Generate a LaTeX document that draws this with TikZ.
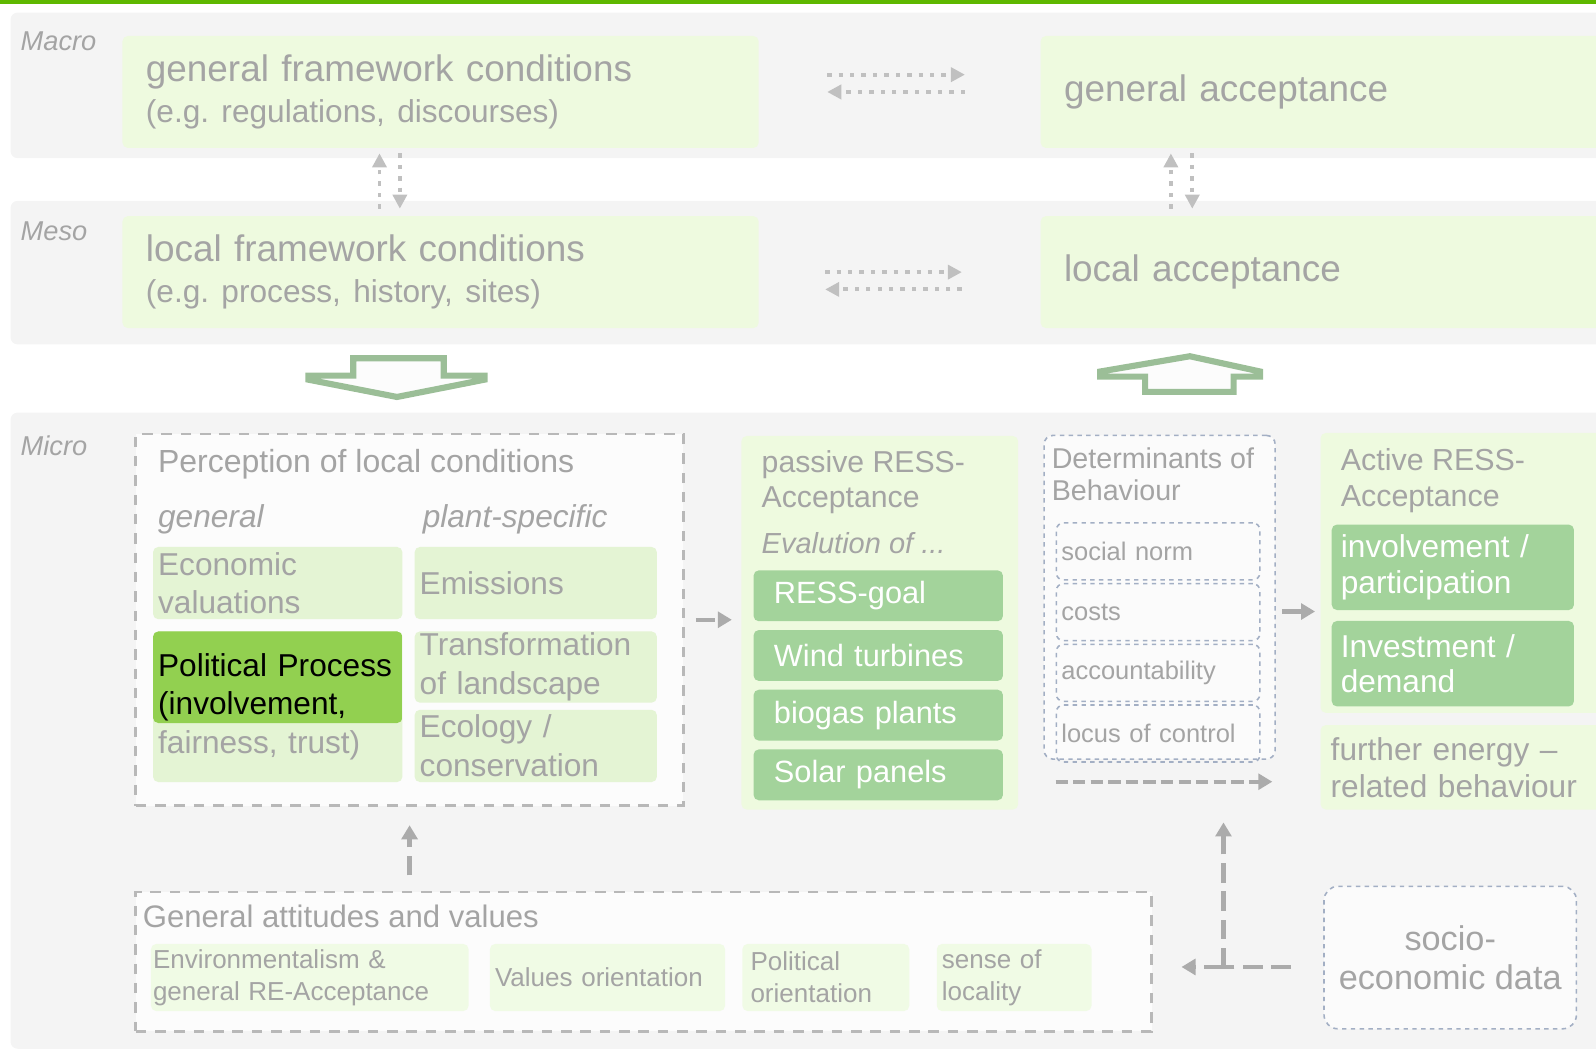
\documentclass[tikz,border=0pt]{standalone}
\usepackage{fontspec}
\setmainfont{Liberation Sans}
\usepackage{tikz}
\usetikzlibrary{shapes.geometric, arrows.meta, positioning, calc}
\frenchspacing

\definecolor{topgreen}{HTML}{5FB800}
\definecolor{bandgray}{HTML}{F4F4F4}
\definecolor{palegreen}{HTML}{EEFADF}
\definecolor{subgreen}{HTML}{E4F4D4}
\definecolor{attgreen}{HTML}{F0FBE5}
\definecolor{darkgreen}{HTML}{A3D39B}
\definecolor{politgreen}{HTML}{92D050}
\definecolor{txtgray}{HTML}{A4A4A4}
\definecolor{linegray}{HTML}{ABABAB}
\definecolor{dashblue}{HTML}{A3AFC4}
\definecolor{blockgreen}{HTML}{9BBE97}

\newcommand\pxl{0.02036cm}
\newcommand\fsz[2]{\fontsize{#1}{#2}\selectfont}
\newcommand\ppbb{path picture bounding box}

\tikzstyle{arrow} = [line width=2.5pt, draw=linegray, dash pattern=on 11pt off 5pt, -{Triangle[length=8pt,width=9pt]}]
\tikzstyle{dotarrow} = [line width=2.2pt, draw=linegray!75, dash pattern=on 2.5pt off 4pt, -{Triangle[length=8pt,width=8pt]}]
\tikzstyle{dashline} = [line width=2.5pt, draw=linegray, dash pattern=on 11pt off 5pt]
\tikzstyle{blockarrow} = [line width=3.5pt, draw=blockgreen, fill=white!70!bandgray, line join=miter]

\tikzset{
	band/.style = {rectangle, rounded corners=4pt, fill=bandgray, anchor=north west, inner sep=0pt},
	boxsize/.style 2 args = {minimum width=#1*\pxl, minimum height=#2*\pxl},
	cell/.style n args = {3}{rectangle, rounded corners=3pt, anchor=north west, align=left,
		inner ysep=0pt, inner xsep=#3*\pxl, text width=#1*\pxl-2*#3*\pxl,
		minimum height=#2*\pxl, text=txtgray},
	txt/.style = {anchor=west, inner sep=0pt, align=left, text=txtgray},
	level/.style = {txt, font=\fsz{15.5}{18}\itshape},
	dashbox/.style = {rectangle, anchor=north west, inner sep=0pt, draw=linegray!85,
		line width=1.6pt, dash pattern=on 6pt off 5pt, fill=white!70!bandgray},
	bluebox/.style = {rectangle, rounded corners=5pt, anchor=north west, inner sep=0pt,
		draw=dashblue, line width=0.9pt, dash pattern=on 2.5pt off 2.5pt, fill=white!60!bandgray},
	bigcell/.style 2 args = {cell={#1}{#2}{23}, fill=palegreen, font=\fsz{21}{23}},
	subcell/.style 2 args = {cell={#1}{#2}{5}, fill=subgreen, font=\fsz{18}{22}},
	darkcell/.style = {cell={245}{50}{20}, fill=darkgreen, text=white, font=\fsz{17.5}{20}},
	actcell/.style = {cell={238}{84}{9}, fill=darkgreen, text=white, font=\fsz{18}{20.3}},
	detcell/.style = {cell={200}{56}{5}, draw=dashblue, line width=0.9pt,
		dash pattern=on 2.5pt off 2.5pt, rounded corners=4pt, font=\fsz{14.5}{17}},
	attcell/.style n args = {3}{cell={#1}{#2}{#3}, fill=attgreen, font=\fsz{14.8}{18}}
}

\begin{document}
\begin{tikzpicture}[x=\pxl, y=-\pxl]
\useasboundingbox (0,0) rectangle (1568,1037);
\fill[topgreen] (0,0) rectangle (1568,4);
%----------------------------------------------------------------------------
% Levels
\node (macroBand) [band, boxsize={1570}{143}] at (10,12) {};
\node (mesoBand) [band, boxsize={1570}{141}] at (10,197) {};
\node (microBand) [band, boxsize={1570}{625}] at (10,405) {};
\node (macroLbl) [level] at (20,41) {Macro};
\node (mesoLbl) [level] at (20,227) {Meso};
\node (microLbl) [level] at (20,438) {Micro};

%----------------------------------------------------------------------------
% Macro and meso nodes
\node (genFrame) [bigcell={625}{110}] at (120,35) {general framework conditions\\{\fsz{18}{23}(e.g. regulations, discourses)}};
\node (genAcc) [bigcell={560}{110}] at (1022,35) {general acceptance};
\node (locFrame) [bigcell={625}{110}] at (120,212) {local framework conditions\\{\fsz{18}{23}(e.g. process, history, sites)}};
\node (locAcc) [bigcell={560}{110}] at (1022,212) {local acceptance};

%----------------------------------------------------------------------------
% Perception of local conditions
\node (perc) [dashbox, boxsize={538}{365}] at (132,425) {};
\node (percTitle) [txt, font=\fsz{18.2}{22}] at (155,456) {Perception of local conditions};
\node (percGen) [txt, font=\fsz{18}{22}\itshape] at (155,510) {general};
\node (percPlant) [txt, font=\fsz{18}{22}\itshape] at (415,510) {plant-specific};
\node (econVal) [subcell={245}{71}] at (150,537) {Economic\\valuations};
\node (emiss) [subcell={238}{71}] at (407,537) {Emissions};
\node (politProc) [subcell={245}{148},
	path picture={\fill[politgreen] (\ppbb.north west) rectangle ([yshift=-90*\pxl]\ppbb.north east);}]
	at (150,620) {\color{black}Political Process\\(involvement,\\\color{txtgray}fairness, trust)};
\node (transf) [subcell={238}{70}] at (407,620) {Transformation\\of landscape};
\node (ecol) [subcell={238}{71}] at (407,697) {Ecology /\\conservation};

%----------------------------------------------------------------------------
% Passive acceptance
\node (passive) [cell={272}{367}{0}, fill=palegreen] at (728,428) {};
\node (passTitle) [txt, font=\fsz{17.2}{19.7}] at (748,474) {passive RESS-\\Acceptance};
\node (passEval) [txt, font=\fsz{16.5}{19}\itshape] at (748,534) {Evalution of ...};
\node (ressGoal) [darkcell] at (740,560) {RESS-goal};
\node (windTurb) [darkcell, below=4.6pt of ressGoal] {Wind turbines};
\node (biogas) [darkcell, below=4.6pt of windTurb] {biogas plants};
\node (solar) [darkcell, below=4.6pt of biogas] {Solar panels};

%----------------------------------------------------------------------------
% Determinants of behaviour
\node (determ) [bluebox, boxsize={227}{318}] at (1025,427) {};
\node (detTitle) [txt, font=\fsz{16.3}{18}] at (1033,466) {Determinants of\\Behaviour};
\node (socNorm) [detcell] at (1037,513) {social norm};
\node (costs) [detcell, below=1.2pt of socNorm] {costs};
\node (account) [detcell, below=1.2pt of costs] {accountability};
\node (locus) [detcell, below=1.2pt of account] {locus of control};

%----------------------------------------------------------------------------
% Active acceptance
\node (active) [cell={290}{275}{0}, fill=palegreen] at (1297,425) {};
\node (actTitle) [txt, font=\fsz{17.3}{20.3}] at (1317,472) {Active RESS-\\Acceptance};
\node (involv) [actcell] at (1308,515) {involvement /\\participation};
\node (invest) [actcell, below=5.8pt of involv] {Investment /\\demand};
\node (further) [cell={290}{83}{10}, fill=palegreen, font=\fsz{18}{21}] at (1297,712) {further energy --\\related behaviour};

%----------------------------------------------------------------------------
% General attitudes and socio-economic data
\node (attitudes) [dashbox, boxsize={998}{137}] at (132,875) {};
\node (attTitle) [txt, font=\fsz{17.7}{20}] at (140,900) {General attitudes and values};
\node (envir) [attcell={312}{66}{2}] at (148,927) {Environmentalism \&\\general RE-Acceptance};
\node (valOr) [attcell={231}{66}{5}] at (481,927) {Values orientation};
\node (polOr) [attcell={164}{66}{8}] at (729,927) {Political\\orientation};
\node (locality) [attcell={152}{66}{5}] at (920,927) {sense of\\locality};
\node (socio) [bluebox, boxsize={248}{140}, rounded corners=8pt, align=center, text=txtgray, font=\fsz{19.5}{22}] at (1300,870) {socio-\\economic data};

%----------------------------------------------------------------------------
% Lines between levels
\draw [dotarrow, shorten <=67*\pxl, shorten >=74*\pxl] ($(genFrame.east)+(0,-17)$) -- ($(genAcc.west)+(0,-17)$);
\draw [dotarrow, shorten <=74*\pxl, shorten >=67*\pxl] (genAcc.west) -- (genFrame.east);
\draw [dotarrow, shorten <=65*\pxl, shorten >=77*\pxl] (locFrame.east) -- (locAcc.west);
\draw [dotarrow, shorten <=77*\pxl, shorten >=65*\pxl] ($(locAcc.west)+(0,17)$) -- ($(locFrame.east)+(0,17)$);

\draw [dotarrow, shorten <=7*\pxl, shorten >=5*\pxl] ($(locFrame.north)+(-60,0)$) -- ($(genFrame.south)+(-60,0)$);
\draw [dotarrow, shorten <=5*\pxl, shorten >=7*\pxl] ($(genFrame.south)+(-40,0)$) -- ($(locFrame.north)+(-40,0)$);
\draw [dotarrow, shorten <=7*\pxl, shorten >=5*\pxl] ($(locAcc.north)+(-152,0)$) -- ($(genAcc.south)+(-152,0)$);
\draw [dotarrow, shorten <=5*\pxl, shorten >=7*\pxl] ($(genAcc.south)+(-131,0)$) -- ($(locAcc.north)+(-131,0)$);

% block arrows between meso and micro
\draw [blockarrow] (347,352) -- (436,352) -- (436,369) -- (476,369) -- (476,373) -- (390,390)
	-- (303,373) -- (303,369) -- (347,369) -- cycle;
\draw [blockarrow] (1169,350) -- (1238,365) -- (1238,370) -- (1212,370) -- (1212,385)
	-- (1125,385) -- (1125,370) -- (1081,370) -- (1081,365) -- cycle;

%----------------------------------------------------------------------------
% Lines in the micro level
\coordinate (detOut) at ($(determ.east)+(0,14)$);
\coordinate (behStart) at (1037,768);
\coordinate (socioJoin) at (1202,950);

\draw [arrow, shorten <=11*\pxl, shorten >=9*\pxl] (perc.east) -- (perc.east -| passive.west);
\draw [arrow, shorten <=6*\pxl, shorten >=5*\pxl] (detOut) -- (detOut -| active.west);
\draw [arrow, dash pattern=on 7pt off 3pt, shorten >=47*\pxl] (behStart) -- (behStart -| further.west);
\draw [arrow, shorten <=15*\pxl, shorten >=18*\pxl] (perc.south |- attitudes.north) -- (perc.south);

\draw [dashline, shorten <=32*\pxl] (socioJoin -| socio.west) -- (socioJoin);
\draw [arrow, shorten >=28*\pxl] (socioJoin) -- (socioJoin -| attitudes.east);
\draw [arrow, shorten >=40*\pxl] (socioJoin) -- (socioJoin |- behStart);

\end{tikzpicture}
\end{document}
